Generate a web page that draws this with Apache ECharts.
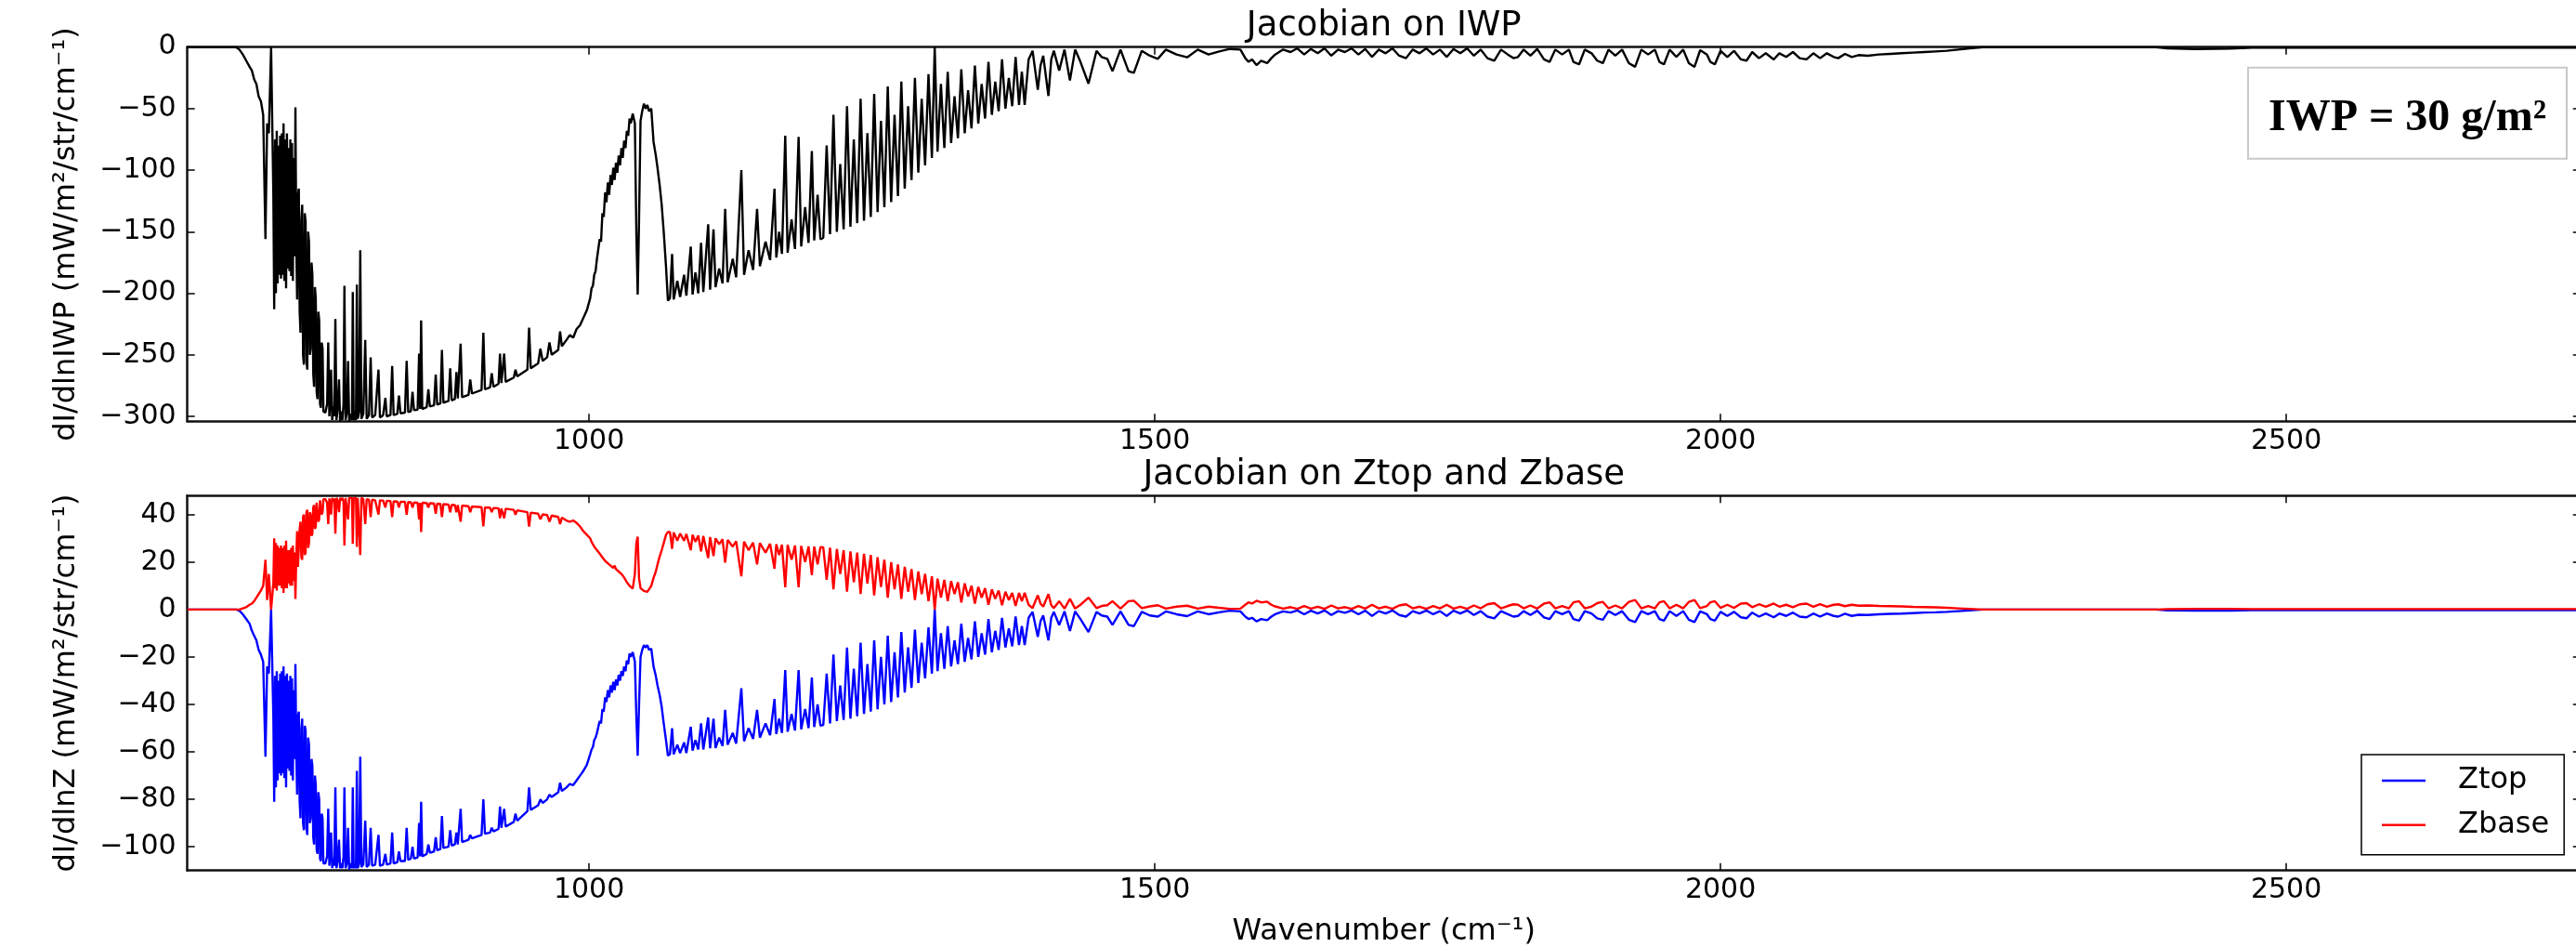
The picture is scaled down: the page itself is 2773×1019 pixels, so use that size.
<!DOCTYPE html>
<html>
<head>
<meta charset="utf-8">
<script src="https://cdn.jsdelivr.net/npm/echarts@6.0.0/dist/echarts.min.js"></script>
<style>
html,body{margin:0;padding:0;background:#fff;}
#chart{width:2773px;height:1019px;}
</style>
</head>
<body>
<div id="chart"></div>
<script>
// ---------------- DATA ----------------
const wavenumber = [
  // flat start + first descent
  645, 670, 688, 691, 694, 697, 700, 702, 704, 706,
  708, 710, 712, 714, 715.5, 717, 719,
  // 720-745 dense band
  721, 721.75, 722.5, 723.25, 724, 724.75, 725.5, 726.25, 727, 727.75,
  728.5, 729.25, 730, 730.75, 731.5, 732.25, 733, 733.75, 734.5, 735.25,
  736, 736.75, 737.5, 738.25, 739, 739.75, 740.5, 741.25, 742, 742.75,
  743.5, 744.25, 745,
  // 745-766
  745.75, 746.5, 747.25, 748, 748.75, 749.5, 750.25, 751, 751.75, 752.5,
  753.25, 754, 754.75, 755.5, 756.25, 757, 757.75, 758.5, 759.25, 760,
  760.75, 761.5, 762.25, 763, 763.75, 764.5, 765.25, 766,
  // 767-1000 floor with spikes
  767, 768.5, 769.5, 770.5, 771.2, 772, 773, 774, 774.8, 775.8,
  776.8, 777.8, 779, 780, 781, 782, 783, 783.8, 784.8, 786,
  787, 788, 789.5, 790.5, 791.2, 792, 793, 794, 794.8, 795.6,
  796.8, 797.8, 798.8, 800.5, 802.2, 803.5, 805.5, 807, 808.3, 811,
  813.9, 815.2, 818, 820, 821.2, 824.5, 826, 827.3, 830.5, 832,
  833.3, 837.3, 838.8, 840.2, 842.5, 844, 845.3, 848.5, 849.8, 850.7,
  851.6, 852.6, 856.5, 858, 859.3, 863, 864.5, 865.8, 868.6, 870,
  871.3, 875.8, 877.3, 878.6, 881.4, 882.8, 884, 885.2, 886.5, 887.8,
  893.5, 895, 896.5, 905, 906.6, 908, 912.5, 914, 915.5, 920,
  921.3, 922.5, 923.8, 925, 926.3, 933.5, 935, 936.5, 945.5, 947,
  948.5, 955, 957, 959, 963, 965, 967, 972.8, 974.4, 976,
  980, 983, 986, 989, 992, 995, 998,
  // 1000-1039 rise
  1001, 1002.2, 1003.4, 1004.6, 1005.8, 1007, 1008.2, 1009.4, 1010.6, 1011.8,
  1013, 1014.2, 1015.4, 1016.6, 1017.8, 1019, 1020.2, 1021.4, 1022.6, 1023.8,
  1025, 1026.2, 1027.4, 1028.6, 1029.8, 1031, 1032.2, 1033.4, 1034.6, 1035.8,
  1036.9, 1038.6,
  // 1040-1070 ozone peak
  1040.5, 1041.8, 1043, 1044.2, 1045.5, 1047, 1048.5, 1050, 1051.5, 1053,
  1055, 1057, 1059, 1060.5, 1062.4, 1064.2, 1066, 1068, 1069.7,
  // 1070-1205
  1071.5, 1073.4, 1074.8, 1078, 1080.5, 1084, 1086, 1089.9, 1091.5, 1094,
  1096.5, 1099, 1101, 1105.3, 1107, 1110, 1111.8, 1115, 1118, 1120.3,
  1122.5, 1127, 1130, 1134.6, 1137, 1141, 1145, 1148.5, 1151, 1156,
  1160, 1163.9, 1165.5, 1168, 1170.5, 1173.4, 1175.5, 1179, 1182, 1185.2,
  1187.5, 1191, 1194, 1196.9, 1199, 1202, 1204.5,
  // 1207-1383
  1207, 1210, 1213, 1216, 1219, 1222, 1225, 1228, 1231, 1234,
  1237, 1240, 1243, 1246, 1249, 1252, 1255, 1258, 1261, 1264,
  1267, 1270, 1273, 1276, 1279, 1282, 1285, 1288, 1291, 1294,
  1297, 1300, 1303, 1305.5, 1308, 1311, 1314, 1317, 1320, 1323,
  1326, 1329, 1332, 1335, 1338, 1341, 1344, 1347, 1350, 1353,
  1356, 1359, 1362, 1365, 1368, 1371, 1374, 1377, 1380, 1382.5,
  // 1385-1614
  1385, 1388.5, 1392, 1396.6, 1399, 1401.4, 1406, 1408.5, 1410.8, 1415.5,
  1420.2, 1425, 1429.6, 1434.3, 1441.4, 1448.5, 1453, 1458, 1462.6, 1469.7,
  1476.8, 1481.5, 1488.5, 1495.6, 1502.7, 1509.8, 1519.2, 1528.6, 1538, 1547.5,
  1556.9, 1566.3, 1575.7, 1580, 1582.8, 1586, 1589.9, 1594, 1599.3, 1603,
  1606.4, 1613.4,
  // 1620-1806
  1620, 1626, 1632, 1638, 1644, 1650, 1656, 1662, 1668, 1674,
  1680, 1686, 1692, 1698, 1704, 1710, 1716, 1722, 1728, 1734,
  1740, 1746, 1752, 1758, 1764, 1770, 1776, 1782, 1788, 1794,
  1800, 1806,
  // 1812-2116
  1812, 1817, 1821, 1826, 1832, 1838, 1844, 1849, 1854, 1860,
  1866, 1870, 1875, 1880, 1886, 1891, 1896, 1901, 1907, 1913,
  1919, 1924.5, 1930, 1936, 1942, 1946, 1950, 1955, 1961, 1967,
  1972, 1977, 1982, 1988, 1991, 1995, 2000, 2006, 2012, 2018,
  2023, 2028, 2034, 2040, 2047, 2052, 2058, 2064, 2070, 2076,
  2082, 2088, 2094, 2100, 2104, 2110, 2116,
  // 2122-2232
  2122, 2130, 2140, 2150, 2160, 2170, 2180, 2190, 2200, 2210,
  2220, 2232,
  // tail
  2300, 2385, 2395, 2420, 2450, 2470, 2600, 2760
];

const jacIWP = [
  0, 0, 0, -2, -6, -11, -16, -19, -26, -30,
  -40, -44, -55, -156, -62, -70, 0,
  -120, -213, -75, -200, -68, -192, -80, -185, -72, -188,
  -70, -185, -62, -190, -75, -196, -70, -180, -82, -182,
  -75, -186, -78, -190, -90, -170, -49, -160, -205, -120,
  -115, -215, -232,
  -140, -128, -250, -258, -135, -142, -255, -262, -150, -158,
  -250, -245, -175, -185, -265, -276, -195, -205, -280, -286,
  -215, -222, -290, -293, -240, -245, -296, -297,
  -297, -290, -240, -300, -288, -262, -303, -292, -300, -221,
  -303, -294, -270, -304, -296, -303, -290, -194, -303, -297,
  -255, -304, -298, -303, -199, -303, -296, -303, -193, -302,
  -296, -165, -302, -298, -238, -302, -299, -252, -301, -299,
  -262, -301, -299, -285, -300, -299, -259, -299, -298, -283,
  -297.5, -297, -255, -296.5, -296, -280, -295, -294.5, -249, -294,
  -222, -294, -292.5, -278, -292, -291, -266, -290.5, -289.5, -246,
  -289, -287.5, -261, -287, -286, -264, -285.5, -285, -241, -284.5,
  -282.5, -270, -281.5, -278.5, -232, -278, -276.5, -265, -276, -273.5,
  -249, -273, -272.5, -249, -272, -268.5, -262, -267.5, -262, -228,
  -261, -257, -245, -255, -252, -240, -250, -246, -231, -243,
  -238, -234, -236, -229, -226, -220, -214,
  -204, -196, -194, -185, -182, -172, -172, -156, -158, -135,
  -138, -118, -126, -110, -120, -104, -112, -98, -108, -94,
  -102, -88, -96, -82, -90, -76, -82, -68, -72, -58,
  -62, -54,
  -62, -150, -201, -140, -60, -52, -46, -50, -47, -52,
  -50, -77, -88, -98, -112, -128, -150, -178, -206,
  -204, -168, -205, -190, -203, -185, -202, -162, -201, -183,
  -200, -159, -199, -144, -197, -148, -195, -180, -192, -131.5,
  -191, -172, -187, -100, -185, -165, -181, -131.5, -178, -158,
  -173, -115, -171, -150, -168, -72, -167, -140, -164, -73,
  -162, -130, -159, -84.5, -157, -120, -156,
  -155, -80, -152, -55, -150, -95, -148, -48, -146, -75,
  -143, -42, -141, -70, -138, -38, -134, -60, -130, -32,
  -126, -55, -121, -28, -115, -48, -108, -25, -102, -42,
  -96, -22, -90, 0, -85, -30, -82, -20, -78, -40,
  -74, -18, -70, -35, -66, -15, -62, -30, -58, -12,
  -55, -28, -52, -10, -50, -25, -48, -8, -47, -20,
  -47, -10, -3, -34.7, -15, -7, -39.7, -10, -3, -19,
  -2, -27, -2, -12, -29.7, -3, -8, -9.5, -19.6, -2,
  -19.6, -20.9, -3, -7, -9.5, -2, -6, -8.3, -2, -6,
  -3.5, -1.5, -2, -9, -12, -10, -14.6, -11, -13, -9,
  -6, -2,
  -4, -1, -6, -1.5, -5, -1, -7, -2, -4, -1,
  -6, -1.5, -8, -2, -5, -1, -7, -9, -2, -5,
  -1, -6, -2, -8, -1.5, -5, -1, -7, -2, -9,
  -11, -2,
  -6, -9, -8, -2, -7, -1.5, -10, -12, -2, -6,
  -2, -12, -14, -2, -5, -11, -13, -2, -7, -2,
  -13, -16, -2, -6, -2, -12, -14, -2, -8, -2,
  -13, -16, -2.5, -6, -12, -14, -3, -8, -3, -10,
  -11, -4, -9, -5, -10, -5, -8, -4, -9, -10,
  -5, -9, -5, -8, -9, -5.5, -8,
  -6.5, -7, -6, -5.5, -5, -4.5, -4, -3.5, -3, -2,
  -1, 0,
  0, 0, -1, -1.5, -1.2, -0.5, -0.4, -0.4
];

const jacZtop = [
  0, 0, 0, -0.5, -2, -4, -6, -9, -11, -13,
  -17, -19, -22, -62, -24, -27, 0,
  -45, -81, -28, -75, -26, -72, -30, -69, -27, -70,
  -26, -69, -24, -71, -28, -75, -27, -67, -30, -68,
  -28, -70, -29, -72, -34, -63, -23, -60, -78, -45,
  -43, -81, -88,
  -50, -46, -90, -93, -49, -51, -92, -95, -54, -57,
  -90, -88, -63, -66, -96, -99, -70, -74, -101, -103,
  -77, -80, -105, -106, -86, -88, -107, -107,
  -107, -104, -84, -108, -103, -94, -109, -105, -108, -75,
  -109, -106, -97, -109, -107, -109, -104, -75, -109, -107,
  -92, -109.5, -107, -109, -75, -109, -107, -109, -68, -109,
  -107, -62, -108.5, -107.5, -89, -108.5, -107.5, -92, -108, -107.5,
  -95, -108, -107.5, -103, -107.5, -107, -94, -107, -106.5, -102,
  -106, -106, -92, -105.5, -105, -100, -105, -104.5, -90, -104,
  -81, -104, -103, -99, -102.5, -102, -96, -101.5, -101, -87,
  -100.5, -100, -93, -99.5, -99, -94, -99, -98.5, -84, -98,
  -97, -95, -96.5, -95, -80, -94.5, -94, -92, -93.5, -92.5,
  -83, -92, -92, -84, -91.5, -89.5, -86, -89, -85, -75,
  -84.5, -82.5, -80, -81.5, -80, -78, -79, -77, -73, -76.5,
  -75, -73.5, -74, -72, -70, -68, -65.5,
  -61, -59, -58, -55, -54, -52, -52, -47, -48, -42,
  -43, -37, -39, -34, -37, -32, -35, -30.5, -34, -29.5,
  -32, -27.5, -30, -26, -28, -24, -26, -21.5, -23, -18.5,
  -20, -18,
  -22, -45, -61.6, -40, -20, -17, -15, -16, -15, -17,
  -16.5, -24, -28, -32, -36, -41, -48, -55, -61.6,
  -61, -50, -61, -57, -60.5, -56, -60.5, -49.4, -59.5, -55,
  -59, -48, -59, -45.5, -58.5, -46, -58.4, -54, -57.5, -42.3,
  -57, -52, -56.5, -33.2, -55.5, -50, -54.5, -42.3, -54, -48,
  -53, -37.7, -52.5, -46, -52, -25.5, -51.5, -44, -51, -25.5,
  -50.5, -42, -50, -28.7, -49.5, -40, -49,
  -48.7, -27, -48, -19, -47, -32, -46.5, -16, -46, -25,
  -45, -14, -44, -23, -43, -13, -42, -20, -40, -11,
  -39, -18, -37, -9.5, -35, -16, -33, -8.5, -31, -14,
  -29, -7.5, -27, 0, -26, -10, -25, -7, -24, -13,
  -23, -6, -22, -12, -21, -5, -20, -10, -19, -4,
  -18, -9, -17, -3.5, -16, -8, -15.5, -3, -15, -7,
  -15, -3.5, -1, -11.5, -5, -2.5, -13, -3.5, -1, -6.5,
  -0.8, -9, -0.8, -4, -9.5, -1, -2.5, -3, -6.5, -0.8,
  -6.5, -7, -1, -2.5, -3, -0.8, -2, -2.8, -0.8, -2,
  -1.2, -0.5, -0.8, -3, -4, -3.5, -5, -4, -4.5, -3,
  -2, -0.8,
  -1.3, -0.4, -2, -0.5, -1.7, -0.4, -2.3, -0.7, -1.4, -0.4,
  -2, -0.5, -2.7, -0.7, -1.7, -0.4, -2.3, -3, -0.7, -1.7,
  -0.4, -2, -0.7, -2.7, -0.5, -1.7, -0.4, -2.3, -0.7, -3,
  -3.7, -0.7,
  -2, -3, -2.7, -0.7, -2.3, -0.5, -3.3, -4, -0.7, -2,
  -0.7, -4, -4.7, -0.7, -1.7, -3.7, -4.3, -0.7, -2.3, -0.7,
  -4.3, -5.3, -0.7, -2, -0.7, -4, -4.7, -0.7, -2.7, -0.7,
  -4.3, -5.3, -0.8, -2, -4, -4.7, -1, -2.7, -1, -3.3,
  -3.7, -1.3, -3, -1.7, -3.3, -1.7, -2.7, -1.3, -3, -3.3,
  -1.7, -3, -1.7, -2.7, -3, -1.8, -2.7,
  -2.2, -2.3, -2, -1.8, -1.7, -1.5, -1.3, -1.2, -1, -0.7,
  -0.4, 0,
  0, 0, -0.4, -0.5, -0.5, -0.3, -0.3, -0.3
];

const jacZbase = [
  0, 0, 0, 0, 0.5, 1, 2, 2.5, 3.5, 5,
  6.5, 8, 10, 21, 4, 15, 0,
  11, 30, 9, 28, 8, 27, 10, 26, 10, 27,
  9, 26, 7, 27, 9, 29, 9, 25, 11, 25,
  10, 26, 10, 27, 12, 24, 4.5, 22, 33, 18,
  18, 34, 37,
  22, 21, 39, 40, 23, 24, 41, 42, 26, 28,
  41, 40, 31, 32, 43, 44, 34, 35, 45, 45,
  37, 38, 46, 46, 40, 41, 46.5, 46.5,
  46.5, 45, 36, 46.8, 45, 40, 47, 45.5, 46.8, 32,
  47, 46, 41, 47, 46, 47, 45.5, 27, 47, 46.5,
  38, 47, 46.5, 47, 27.7, 47, 46.5, 47, 26.4, 47,
  46.5, 23, 47, 46.5, 36, 46.5, 46.3, 39, 46.3, 46,
  40, 46, 45.9, 43, 45.8, 45.7, 39, 45.6, 45.5, 43,
  45.4, 45.4, 40, 45.3, 45.2, 43, 45.1, 45, 38, 45,
  32.7, 45, 44.9, 43, 44.8, 44.7, 40.4, 44.6, 44.5, 39,
  44.4, 44.2, 41, 44.1, 44, 41, 44, 43.9, 37, 43.8,
  43.5, 41, 43.4, 43.1, 35, 43, 42.9, 41, 42.8, 42.7,
  38.5, 42.6, 42.6, 38.5, 42.5, 42, 40, 41.8, 41, 35,
  40.8, 40.4, 38, 40.1, 39.8, 37, 39.6, 39, 36, 38.7,
  37.5, 37, 37.5, 36.5, 35, 33, 31.5,
  30, 28.5, 28, 26.5, 26, 25, 25, 23.5, 23.5, 22,
  22, 20.5, 21, 19.5, 20, 18.5, 19, 17.5, 18.5, 17,
  17.5, 16, 16.5, 15, 15.5, 13.5, 14, 11.5, 12, 10,
  10.5, 8.8,
  15, 28, 30.7, 13.2, 9, 9.4, 7.8, 7.5, 7.4, 8.5,
  10, 13.3, 16, 19, 22.3, 25, 28, 31.4, 32.7,
  32.7, 25.6, 32.5, 29, 32, 29, 31.8, 25, 31.5, 28.5,
  31.2, 24.5, 31, 21.7, 30.5, 22.5, 30, 27.5, 29.6, 19.8,
  29.3, 26.5, 28.8, 14, 28.6, 25, 28.2, 19, 28, 24,
  27.7, 17.2, 27.5, 23, 27.3, 9.4, 27.2, 21, 27, 9.4,
  26.8, 20, 26.6, 14.5, 26.5, 19, 26.3,
  26.2, 12.5, 26, 8.5, 25.5, 15, 25, 7.5, 24.5, 11.5,
  24, 6.5, 23.5, 11, 23, 6, 22, 9.5, 21, 5,
  20, 8.5, 19, 4.5, 18, 7.5, 17, 4, 16, 6.5,
  15, 3.5, 14, 0, 13, 5, 12.5, 3.5, 12, 6.5,
  11.5, 3, 11, 5.5, 10, 2.5, 9.5, 5, 9, 2,
  8.5, 4.5, 8, 1.8, 7.5, 4, 7, 1.5, 7, 3.5,
  7, 2, 0.6, 6, 2.5, 1.2, 6.5, 1.8, 0.6, 3.5,
  0.4, 4.5, 0.4, 2, 5, 0.6, 1.5, 1.8, 3.5, 0.4,
  3.5, 3.7, 0.6, 1.3, 1.8, 0.4, 1.2, 1.6, 0.4, 1.2,
  0.7, 0.3, 0.4, 2, 3, 2.5, 3.7, 3, 3.3, 2,
  1.3, 0.4,
  1, 0.3, 1.5, 0.4, 1.2, 0.3, 1.7, 0.5, 1, 0.3,
  1.5, 0.4, 2, 0.5, 1.2, 0.3, 1.7, 2.2, 0.5, 1.2,
  0.3, 1.5, 0.5, 2, 0.4, 1.2, 0.3, 1.7, 0.5, 2.2,
  2.7, 0.5,
  1.5, 2.2, 2, 0.5, 1.7, 0.4, 2.5, 3, 0.5, 1.5,
  0.5, 3, 3.5, 0.5, 1.2, 2.7, 3.2, 0.5, 1.7, 0.5,
  3.2, 4, 0.5, 1.5, 0.5, 3, 3.5, 0.5, 2, 0.5,
  3.2, 4, 0.6, 1.5, 3, 3.5, 0.7, 2, 0.7, 2.5,
  2.7, 1, 2.2, 1.2, 2.5, 1.2, 2, 1, 2.2, 2.5,
  1.2, 2.2, 1.2, 2, 2.2, 1.4, 2,
  1.6, 1.7, 1.5, 1.4, 1.3, 1.1, 1, 0.9, 0.7, 0.5,
  0.3, 0,
  0, 0, 0.2, 0.3, 0.3, 0.2, 0.2, 0.2
];

const xTickValues = [1000, 1500, 2000, 2500];
const iwpTickValues = [0, -50, -100, -150, -200, -250, -300];
const zTickValues = [40, 20, 0, -20, -40, -60, -80, -100];
const seriesNames = ['Ztop', 'Zbase'];

// ---------------- CHART ----------------
const FONT = '"DejaVu Sans", "Liberation Sans", sans-serif';
const minusFmt = v => (v < 0 ? '\u2212' + Math.abs(v) : String(v));
const toPairs = ys => wavenumber.map((w, i) => [w, ys[i]]).filter(p => p[1] !== undefined);

const PLOT_LEFT = 201.7, PLOT_RIGHT_EDGE = 2777.8;
const G0_TOP = 50.7, G0_H = 402.6, G1_TOP = 533.3, G1_H = 403.4;
const PLOT_CX = (PLOT_LEFT + PLOT_RIGHT_EDGE) / 2;

const lineAxis = { show: true, onZero: false, lineStyle: { color: '#111', width: 2.5 } };
function tick(vals) {
  return { show: true, inside: true, length: 8, customValues: vals, lineStyle: { color: '#000', width: 1.5 } };
}
function label(vals, show, margin) {
  return { show: show, customValues: vals, fontSize: 30, fontFamily: FONT, color: '#000', margin: margin, formatter: minusFmt };
}
function xAxis(grid, pos, showLabel, extra) {
  return Object.assign({
    type: 'value', gridIndex: grid, position: pos, min: 645, max: 2760,
    axisLine: lineAxis, axisTick: tick(xTickValues), axisLabel: label(xTickValues, showLabel, 7),
    splitLine: { show: false }, minorTick: { show: false }
  }, extra || {});
}
function yAxis(grid, pos, showLabel, min, max, vals, extra) {
  return Object.assign({
    type: 'value', gridIndex: grid, position: pos, min: min, max: max,
    axisLine: lineAxis, axisTick: tick(vals), axisLabel: label(vals, showLabel, 12),
    splitLine: { show: false }, minorTick: { show: false }
  }, extra || {});
}
const nameStyle = { fontSize: 32, fontFamily: FONT, color: '#000' };

const chart = echarts.init(document.getElementById('chart'), null, { renderer: 'canvas', width: 2773, height: 1019 });
chart.setOption({
  animation: false,
  backgroundColor: '#fff',
  textStyle: { fontFamily: FONT },
  grid: [
    { left: PLOT_LEFT, top: G0_TOP, width: PLOT_RIGHT_EDGE - PLOT_LEFT, height: G0_H, containLabel: false, outerBoundsMode: 'none' },
    { left: PLOT_LEFT, top: G1_TOP, width: PLOT_RIGHT_EDGE - PLOT_LEFT, height: G1_H, containLabel: false, outerBoundsMode: 'none' }
  ],
  xAxis: [
    xAxis(0, 'bottom', true),
    xAxis(0, 'top', false),
    xAxis(1, 'bottom', true, {
      name: 'Wavenumber (cm\u207B\u00B9)', nameLocation: 'middle', nameGap: 50,
      nameTextStyle: nameStyle, nameMoveOverlap: false
    }),
    xAxis(1, 'top', false)
  ],
  yAxis: [
    yAxis(0, 'left', true, -304, 0, iwpTickValues, {
      name: 'dI/dlnIWP (mW/m\u00B2/str/cm\u207B\u00B9)', nameLocation: 'middle', nameRotate: 90,
      nameGap: 114, nameTextStyle: nameStyle, nameMoveOverlap: false
    }),
    yAxis(0, 'right', false, -304, 0, iwpTickValues),
    yAxis(1, 'left', true, -110, 48, zTickValues, {
      name: 'dI/dlnZ (mW/m\u00B2/str/cm\u207B\u00B9)', nameLocation: 'middle', nameRotate: 90,
      nameGap: 114, nameTextStyle: nameStyle, nameMoveOverlap: false
    }),
    yAxis(1, 'right', false, -110, 48, zTickValues)
  ],
  legend: {
    data: seriesNames,
    orient: 'vertical',
    left: 2542, top: 812,
    padding: [12, 16, 16, 22],
    icon: 'rect',
    itemWidth: 47, itemHeight: 2.5, itemGap: 15.7,
    borderColor: '#000', borderWidth: 1.5, backgroundColor: '#fff', borderRadius: 0,
    textStyle: { fontSize: 32, fontFamily: FONT, color: '#000', padding: [0, 0, 0, 30] },
    selectedMode: false
  },
  series: [
    {
      name: 'IWP', type: 'line', xAxisIndex: 0, yAxisIndex: 0, data: toPairs(jacIWP),
      symbol: 'none', showSymbol: false, clip: true, silent: true,
      lineStyle: { color: '#000', width: 2.4 }, itemStyle: { color: '#000' }
    },
    {
      name: 'Ztop', type: 'line', xAxisIndex: 2, yAxisIndex: 2, data: toPairs(jacZtop),
      symbol: 'none', showSymbol: false, clip: true, silent: true,
      lineStyle: { color: '#0000ff', width: 2.4 }, itemStyle: { color: '#0000ff' }
    },
    {
      name: 'Zbase', type: 'line', xAxisIndex: 2, yAxisIndex: 2, data: toPairs(jacZbase),
      symbol: 'none', showSymbol: false, clip: true, silent: true,
      lineStyle: { color: '#ff0000', width: 2.4 }, itemStyle: { color: '#ff0000' }
    }
  ],
  graphic: [
    {
      type: 'text', x: PLOT_CX, y: G0_TOP - 4,
      style: { text: 'Jacobian on IWP', font: '37px ' + FONT, fill: '#000', textAlign: 'center', textVerticalAlign: 'bottom' }
    },
    {
      type: 'text', x: PLOT_CX, y: G1_TOP - 3,
      style: { text: 'Jacobian on Ztop and Zbase', font: '37px ' + FONT, fill: '#000', textAlign: 'center', textVerticalAlign: 'bottom' }
    },
    {
      type: 'rect', shape: { x: 2420, y: 72.7, width: 343, height: 98 },
      style: { fill: '#fff', stroke: '#c8c8c8', lineWidth: 2 }, z: 10
    },
    {
      type: 'text', x: 2591.5, y: 128, z: 11,
      style: { text: 'IWP = 30 g/m\u00B2', font: 'bold 48px "Liberation Serif", "Times New Roman", serif', fill: '#000', textAlign: 'center', textVerticalAlign: 'middle' }
    }
  ]
});
</script>
</body>
</html>
